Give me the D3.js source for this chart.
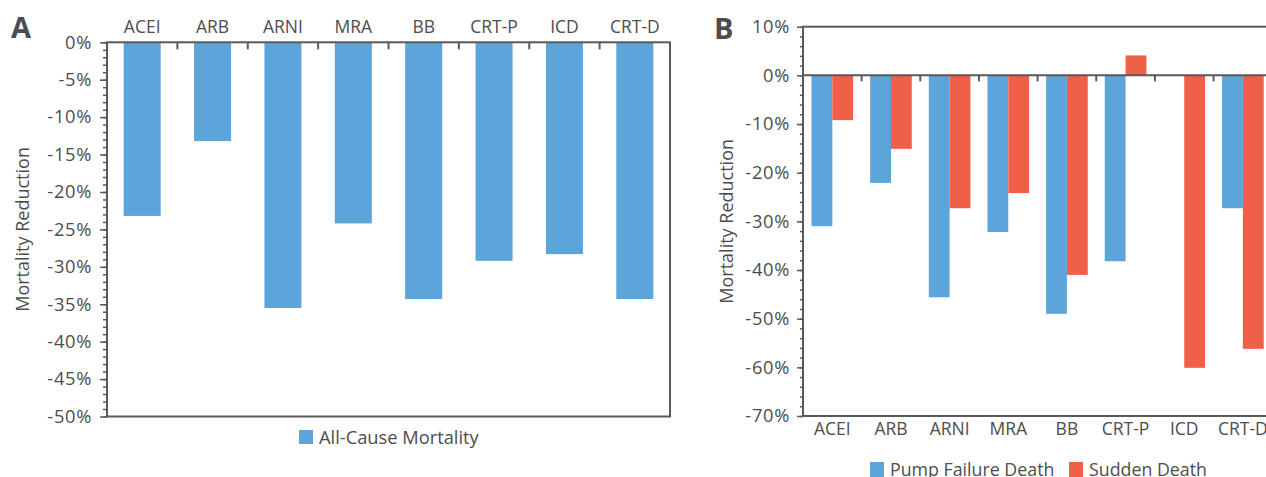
<!DOCTYPE html>
<html><head><meta charset="utf-8">
<script src="https://cdn.jsdelivr.net/npm/d3@7"></script>
<style>
html,body{margin:0;padding:0;background:#fff;}
svg{display:block;font-family:"Open Sans",sans-serif;}
text{fill:#4d4d4d;}
</style></head>
<body><svg id="c" width="1266" height="477"></svg>
<script>
const categories = ["ACEI","ARB","ARNI","MRA","BB","CRT-P","ICD","CRT-D"];
const allCause = [-23.2,-13.2,-35.5,-24.2,-34.3,-29.2,-28.3,-34.3];
const pumpFailure = [-31,-22.1,-45.6,-32.2,-49,-38.2,0,-27.3];
const suddenDeath = [-9.2,-15.1,-27.3,-24.2,-41,4.1,-60.1,-56.2];
const ticksA = [0,-5,-10,-15,-20,-25,-30,-35,-40,-45,-50];
const ticksB = [10,0,-10,-20,-30,-40,-50,-60,-70];
const seriesB = ["Pump Failure Death","Sudden Death"];

const BLUE="#5BA5DA", RED="#F05F48", AX="#5a5a5a", TX="#4d4d4d";
const svg=d3.select("#c");
const fmt=d=>d+"%";

function styleTicks(sel){
  sel.selectAll("text").attr("font-size",18.3).attr("letter-spacing",0.7)
    .attr("fill",TX).attr("font-family","Open Sans");
}

// ---------- Panel A ----------
{
  const L=107,R=670,T=42.3,B=416.5;
  const x=d3.scaleBand().domain(categories).range([L,R]).paddingInner(0.474).paddingOuter(0.237);
  const y=d3.scaleLinear().domain([0,-50]).range([T,B]);
  const g=svg.append("g");
  g.selectAll("rect.bar").data(categories).join("rect")
    .attr("x",d=>x(d)).attr("width",x.bandwidth())
    .attr("y",(d,i)=>Math.min(y(allCause[i]),y(0)))
    .attr("height",(d,i)=>Math.abs(y(allCause[i])-y(0)))
    .attr("fill",BLUE);
  g.append("g").attr("transform",`translate(${L},0)`)
    .call(d3.axisLeft(y).tickValues(d3.range(0,-51,-1)).tickSize(4).tickFormat(""))
    .call(a=>a.select(".domain").remove())
    .call(a=>a.selectAll("line").attr("stroke",AX).attr("stroke-width",1.5));
  const ya=g.append("g").attr("transform",`translate(${L},0)`)
    .call(d3.axisLeft(y).tickValues(ticksA).tickSize(7).tickPadding(8).tickFormat(fmt));
  ya.select(".domain").remove();
  ya.selectAll("line").attr("stroke",AX).attr("stroke-width",1.5);
  styleTicks(ya);
  g.append("rect").attr("x",L).attr("y",T).attr("width",R-L).attr("height",B-T)
    .attr("fill","none").attr("stroke",AX).attr("stroke-width",2);
  const step=x.step();
  g.selectAll("line.bt").data(d3.range(1,categories.length)).join("line")
    .attr("x1",i=>x.range()[0]+i*step).attr("x2",i=>x.range()[0]+i*step)
    .attr("y1",T).attr("y2",T+7).attr("stroke",AX).attr("stroke-width",2);
  const xa=g.append("g").attr("transform",`translate(0,${T})`)
    .call(d3.axisTop(x).tickSize(0).tickPadding(9));
  xa.select(".domain").remove();
  xa.selectAll("text").attr("font-size",17.5).attr("fill",TX).attr("font-family","Open Sans");
  g.append("text").attr("transform",`translate(22,${(T+B)/2}) rotate(-90)`)
    .attr("text-anchor","middle").attr("dominant-baseline","central")
    .attr("font-size",18).text("Mortality Reduction");
  g.append("text").attr("x",11).attr("y",38).attr("font-size",29).attr("font-weight","bold")
    .attr("fill","#4a4a4a").text("A");
  const lg=g.append("g").attr("transform","translate(299,430)");
  lg.append("rect").attr("width",14).attr("height",14).attr("fill",BLUE);
  lg.append("text").attr("x",20).attr("y",13.5).attr("font-size",18.3).text("All-Cause Mortality");
}

// ---------- Panel B ----------
{
  const L=803,R=1272.2,T=26.7,B=416;
  const x=d3.scaleBand().domain(categories).range([L,R]).paddingInner(0.29).paddingOuter(0.145);
  const x1=d3.scaleBand().domain(seriesB).range([0,x.bandwidth()]);
  const y=d3.scaleLinear().domain([10,-70]).range([T,B]);
  const g=svg.append("g");
  const rows=categories.map((c,i)=>({c,vals:[pumpFailure[i],suddenDeath[i]]}));
  const col=d3.scaleOrdinal().domain(seriesB).range([BLUE,RED]);
  g.selectAll("g.grp").data(rows).join("g").attr("transform",d=>`translate(${x(d.c)},0)`)
    .selectAll("rect").data(d=>seriesB.map((s,j)=>({s,v:d.vals[j]}))).join("rect")
    .attr("x",d=>x1(d.s)).attr("width",x1.bandwidth())
    .attr("y",d=>Math.min(y(d.v),y(0))).attr("height",d=>Math.abs(y(d.v)-y(0)))
    .attr("fill",d=>col(d.s));
  g.append("g").attr("transform",`translate(${L},0)`)
    .call(d3.axisLeft(y).tickValues(d3.range(10,-71,-2)).tickSize(3).tickFormat(""))
    .call(a=>a.select(".domain").remove())
    .call(a=>a.selectAll("line").attr("stroke",AX).attr("stroke-width",1.5));
  const ya=g.append("g").attr("transform",`translate(${L},0)`)
    .call(d3.axisLeft(y).tickValues(ticksB).tickSize(6).tickPadding(7).tickFormat(fmt));
  ya.select(".domain").remove();
  ya.selectAll("line").attr("stroke",AX).attr("stroke-width",1.5);
  styleTicks(ya);
  g.append("rect").attr("x",L).attr("y",T).attr("width",R-L).attr("height",B-T)
    .attr("fill","none").attr("stroke",AX).attr("stroke-width",2);
  g.append("line").attr("x1",L).attr("x2",R).attr("y1",y(0)).attr("y2",y(0))
    .attr("stroke",AX).attr("stroke-width",2);
  const step=x.step();
  g.selectAll("line.bt").data(d3.range(1,categories.length)).join("line")
    .attr("x1",i=>x.range()[0]+i*step).attr("x2",i=>x.range()[0]+i*step)
    .attr("y1",y(0)).attr("y2",y(0)+6).attr("stroke",AX).attr("stroke-width",2);
  const xa=g.append("g").attr("transform",`translate(0,${B})`)
    .call(d3.axisBottom(x).tickSize(0).tickPadding(7));
  xa.select(".domain").remove();
  xa.selectAll("text").attr("font-size",17.5).attr("fill",TX).attr("font-family","Open Sans");
  g.append("text").attr("transform",`translate(726,${(T+B)/2}) rotate(-90)`)
    .attr("text-anchor","middle").attr("dominant-baseline","central")
    .attr("font-size",18).text("Mortality Reduction");
  g.append("text").attr("x",714).attr("y",39).attr("font-size",29).attr("font-weight","bold")
    .attr("fill","#4a4a4a").text("B");
  const lg=g.append("g").attr("transform","translate(870,462)");
  lg.append("rect").attr("width",14).attr("height",15).attr("fill",BLUE);
  lg.append("text").attr("x",20).attr("y",14).attr("font-size",17.8).text(seriesB[0]);
  lg.append("rect").attr("x",199).attr("width",14).attr("height",15).attr("fill",RED);
  lg.append("text").attr("x",219).attr("y",14).attr("font-size",17.8).text(seriesB[1]);
}
</script></body></html>
